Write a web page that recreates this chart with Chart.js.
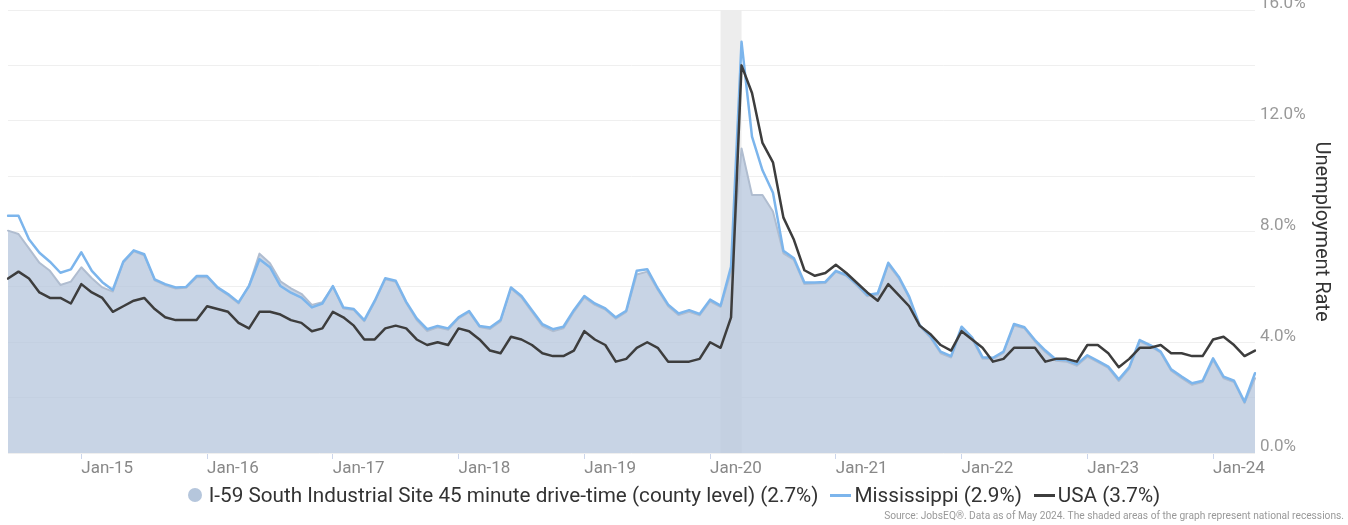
<!DOCTYPE html>
<html>
<head>
<meta charset="utf-8">
<title>Unemployment Rate</title>
<script src="https://cdn.jsdelivr.net/npm/chart.js@4.4.1/dist/chart.umd.min.js"></script>
<style>
  html, body { margin: 0; padding: 0; background: #fff; }
  #wrap { position: relative; width: 1348px; height: 525px; font-family: Roboto, "DejaVu Sans", sans-serif; }
  #chart { position: absolute; left: 0; top: 0; }
  #legend { position: absolute; left: 0; top: 483px; width: 1348px; height: 24px; display: flex; justify-content: center; align-items: center; font-size: 20.7px; color: #333; }
  #legend .item { display: flex; align-items: center; margin: 0 6px; white-space: nowrap; }
  #legend .dot { width: 14px; height: 14px; border-radius: 50%; margin-right: 7px; }
  #legend .dash { width: 21px; height: 3px; margin-right: 3px; }
  #source { position: absolute; right: 4px; top: 510px; font-size: 10.2px; color: #999; white-space: nowrap; }
</style>
</head>
<body>
<div id="wrap">
  <canvas id="chart" width="1348" height="525"></canvas>
  <div id="legend"></div>
  <div id="source">Source: JobsEQ®. Data as of May 2024. The shaded areas of the graph represent national recessions.</div>
</div>
<script>
// monthly, Jun-14 .. May-24
const monthNames = ['Jan','Feb','Mar','Apr','May','Jun','Jul','Aug','Sep','Oct','Nov','Dec'];
const startYear = 2014, startMonth = 5, monthCount = 120;

const regionName = 'I-59 South Industrial Site 45 minute drive-time (county level)';
const region = [
  8.03, 7.91, 7.39, 6.87, 6.58, 6.07, 6.19,
  6.71, 6.31, 5.98, 5.83, 6.88, 7.28, 7.14, 6.24, 6.06, 5.94, 5.97, 6.35,
  6.36, 5.95, 5.70, 5.40, 6.05, 7.20, 6.85, 6.20, 5.95, 5.75, 5.35, 5.45,
  6.00, 5.22, 5.16, 4.76, 5.46, 6.27, 6.18, 5.42, 4.80, 4.40, 4.54, 4.45,
  4.86, 5.09, 4.55, 4.48, 4.75, 5.94, 5.62, 5.10, 4.58, 4.40, 4.50, 5.10,
  5.62, 5.35, 5.18, 4.85, 5.10, 6.45, 6.55, 5.90, 5.30, 4.98, 5.10, 4.97,
  5.48, 5.28, 6.55, 11.00, 9.32, 9.32, 8.72, 7.21, 6.97, 6.10, 6.12, 6.14,
  6.54, 6.40, 6.05, 5.66, 5.72, 6.80, 6.32, 5.60, 4.58, 4.18, 3.60, 3.45,
  4.50, 4.12, 3.40, 3.40, 3.62, 4.60, 4.50, 4.03, 3.65, 3.33, 3.30, 3.15,
  3.48, 3.28, 3.07, 2.60, 3.05, 4.02, 3.86, 3.62, 2.97, 2.70, 2.46, 2.56,
  3.36, 2.70, 2.56, 1.80, 2.70
];
const mississippi = [
  8.57, 8.57, 7.72, 7.23, 6.91, 6.51, 6.63,
  7.25, 6.58, 6.17, 5.89, 6.91, 7.32, 7.18, 6.27, 6.10, 5.98, 6.00, 6.39,
  6.39, 5.98, 5.74, 5.44, 6.03, 7.00, 6.71, 6.03, 5.79, 5.61, 5.26, 5.40,
  6.03, 5.26, 5.20, 4.80, 5.50, 6.31, 6.22, 5.46, 4.86, 4.47, 4.59, 4.50,
  4.90, 5.13, 4.59, 4.53, 4.80, 5.98, 5.67, 5.16, 4.65, 4.47, 4.56, 5.16,
  5.67, 5.40, 5.22, 4.90, 5.14, 6.58, 6.64, 5.95, 5.36, 5.04, 5.16, 5.02,
  5.54, 5.32, 6.73, 14.85, 11.43, 10.21, 9.40, 7.30, 7.03, 6.16, 6.16, 6.18,
  6.58, 6.43, 6.10, 5.71, 5.77, 6.87, 6.37, 5.65, 4.62, 4.23, 3.66, 3.50,
  4.56, 4.18, 3.46, 3.44, 3.66, 4.66, 4.54, 4.08, 3.70, 3.38, 3.36, 3.21,
  3.53, 3.33, 3.12, 2.66, 3.10, 4.08, 3.90, 3.66, 3.02, 2.76, 2.52, 2.61,
  3.42, 2.76, 2.61, 1.85, 2.88
];
const usa = [
  6.3, 6.55, 6.3, 5.8, 5.6, 5.6, 5.4,
  6.1, 5.8, 5.6, 5.1, 5.3, 5.5, 5.6, 5.2, 4.9, 4.8, 4.8, 4.8,
  5.3, 5.2, 5.1, 4.7, 4.5, 5.1, 5.1, 5.0, 4.8, 4.7, 4.4, 4.5,
  5.1, 4.9, 4.6, 4.1, 4.1, 4.5, 4.6, 4.5, 4.1, 3.9, 4.0, 3.9,
  4.5, 4.4, 4.1, 3.7, 3.6, 4.2, 4.1, 3.9, 3.6, 3.5, 3.5, 3.7,
  4.4, 4.1, 3.9, 3.3, 3.4, 3.8, 4.0, 3.8, 3.3, 3.3, 3.3, 3.4,
  4.0, 3.8, 4.9, 14.0, 13.0, 11.2, 10.5, 8.5, 7.7, 6.6, 6.4, 6.5,
  6.8, 6.5, 6.15, 5.8, 5.5, 6.1, 5.7, 5.3, 4.6, 4.3, 3.9, 3.7,
  4.4, 4.1, 3.8, 3.3, 3.4, 3.8, 3.8, 3.8, 3.3, 3.4, 3.4, 3.3,
  3.9, 3.9, 3.6, 3.1, 3.4, 3.8, 3.8, 3.9, 3.6, 3.6, 3.5, 3.5,
  4.1, 4.2, 3.9, 3.5, 3.7
];
const recessions = [['Feb-20', 'Apr-20']];
const yMax = 16, yStep = 2, yLabelEvery = 4;

const labels = [];
for (let i = 0; i < monthCount; i++) {
  const m = startMonth + i;
  labels.push(monthNames[m % 12] + '-' + String(startYear + Math.floor(m / 12)).slice(2));
}

const colors = { region: '#b5c6dc', mississippi: '#7cb5ec', usa: '#3d3d3d' };

const recessionBands = {
  id: 'recessionBands',
  beforeDatasetsDraw(chart) {
    const { ctx, chartArea: a, scales: { x } } = chart;
    ctx.save();
    ctx.fillStyle = '#ededed';
    recessions.forEach(([s, e]) => {
      const x0 = x.getPixelForValue(labels.indexOf(s));
      const x1 = x.getPixelForValue(labels.indexOf(e));
      ctx.fillRect(x0, a.top, x1 - x0, a.bottom - a.top);
    });
    ctx.restore();
  }
};

const line = (extra) => Object.assign({ pointRadius: 0, pointHoverRadius: 0, tension: 0, borderJoinStyle: 'round', borderCapStyle: 'round', fill: false }, extra);

new Chart(document.getElementById('chart'), {
  type: 'line',
  data: {
    labels,
    datasets: [
      line({ label: regionName, data: region, order: 3, fill: 'origin', backgroundColor: 'rgba(181,198,220,0.75)', borderColor: '#b0bdd0', borderWidth: 2 }),
      line({ label: 'Mississippi', data: mississippi, order: 2, borderColor: colors.mississippi, borderWidth: 2.5 }),
      line({ label: 'USA', data: usa, order: 1, borderColor: colors.usa, borderWidth: 2.5 })
    ]
  },
  options: {
    responsive: false,
    animation: false,
    layout: { padding: { left: 8, top: 10, right: 0, bottom: 0 } },
    plugins: { legend: { display: false }, tooltip: { enabled: false } },
    scales: {
      x: {
        type: 'category',
        offset: false,
        border: { display: false },
        grid: { display: true, offset: false, drawOnChartArea: false, drawTicks: true, tickLength: 6, color: '#ccd6eb' },
        ticks: {
          autoSkip: false, maxRotation: 0, align: 'start', padding: 0, color: '#888',
          font: { family: 'Roboto', size: 17 },
          callback(v) { return this.getLabelForValue(v); }
        },
        afterBuildTicks(s) { s.ticks = s.ticks.filter(t => labels[t.value].startsWith('Jan')); },
        afterFit(s) { s.height = 72; s.paddingLeft = 0; s.paddingRight = 0; }
      },
      y: {
        position: 'right',
        min: 0, max: yMax,
        border: { display: false },
        grid: { color: '#efefef', drawTicks: false },
        ticks: {
          stepSize: yStep, padding: 5, labelOffset: -6, color: '#999',
          font: { family: 'Roboto', size: 17 },
          callback: v => (v % yLabelEvery === 0 ? v.toFixed(1) + '%' : '')
        },
        title: { display: true, text: 'Unemployment Rate', color: '#333', font: { family: 'Roboto', size: 20 }, padding: { top: 15, bottom: 0 } },
        afterFit(s) { s.width = 93; s.paddingTop = 0; s.paddingBottom = 0; }
      }
    }
  },
  plugins: [recessionBands]
});

// legend with the latest value of each series
const last = a => a[a.length - 1].toFixed(1) + '%';
const legendItems = [
  { name: regionName, value: last(region), color: colors.region, kind: 'dot' },
  { name: 'Mississippi', value: last(mississippi), color: colors.mississippi, kind: 'dash' },
  { name: 'USA', value: last(usa), color: colors.usa, kind: 'dash' }
];
document.getElementById('legend').innerHTML = legendItems.map(it =>
  `<span class="item"><span class="${it.kind}" style="background:${it.color}"></span>${it.name} (${it.value})</span>`
).join('');
</script>
</body>
</html>
